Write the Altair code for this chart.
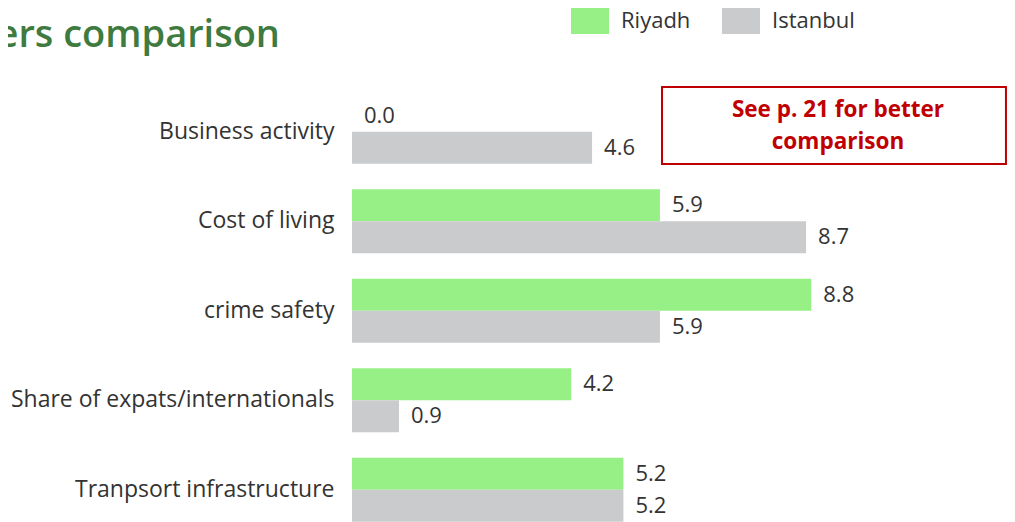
import altair as alt
import pandas as pd

categories = ["Business activity", "Cost of living", "crime safety",
              "Share of expats/internationals", "Tranpsort infrastructure"]
series = ["Riyadh", "Istanbul"]
riyadh = [0.0, 5.9, 8.8, 4.2, 5.2]
istanbul = [4.6, 8.7, 5.9, 0.9, 5.2]
colors = ["#96F085", "#CACBCD"]

title_text = "ers comparison"
note_lines = ["See p. 21 for better", "comparison"]
note_x = [5.94, 12.53]

rows = []
for c, r, i in zip(categories, riyadh, istanbul):
    rows.append({"cat": c, "series": "Riyadh", "value": r})
    rows.append({"cat": c, "series": "Istanbul", "value": i})
df = pd.DataFrame(rows)
df["label"] = df["value"].map(lambda v: f"{v:.1f}")

FONT = "Open Sans"
xscale = alt.Scale(domain=[0, 12.55], nice=False, zero=True)
yscale = alt.Scale(domain=categories, paddingInner=0.285, paddingOuter=0.1425)
yoff = alt.YOffset("series:N", sort=series, scale=alt.Scale(domain=series, paddingInner=0, paddingOuter=0))

base = alt.Chart(df).encode(
    y=alt.Y("cat:N", sort=categories, scale=yscale,
            axis=alt.Axis(title=None, ticks=False, domain=False, labelFontSize=23,
                          labelFont=FONT, labelColor="#333333", labelPadding=18,
                          labelLimit=400)),
    yOffset=yoff,
)

bars = base.mark_bar().encode(
    x=alt.X("value:Q", scale=xscale, axis=None),
    color=alt.Color("series:N", sort=series,
                    scale=alt.Scale(domain=series, range=colors),
                    legend=alt.Legend(title=None, orient="none", legendX=219, legendY=-85,
                                      direction="horizontal",
                                      symbolType="M-1,-0.684h2v1.368h-2z",
                                      symbolSize=1444, symbolStrokeWidth=0,
                                      symbolOpacity=1,
                                      labelFontSize=22, labelFont=FONT,
                                      labelColor="#333333", labelOffset=12,
                                      columnPadding=31)),
)

texts = base.mark_text(align="left", baseline="middle", dx=12, fontSize=22,
                       font=FONT, color="#333333").encode(
    x=alt.X("value:Q", scale=xscale),
    text="label:N",
)

title = alt.Chart(pd.DataFrame({"t": [title_text]})).mark_text(
    align="right", baseline="alphabetic", fontSize=38, fontWeight=600,
    font="Open Sans", color="#3F7A3F").encode(
    x=alt.value(-72), y=alt.value(-40), text="t:N")

box = alt.Chart(pd.DataFrame({"x0": [note_x[0]], "x1": [note_x[1]]})).mark_rect(
    fill="white", stroke="#C00000", strokeWidth=2).encode(
    x=alt.X("x0:Q", scale=xscale), x2="x1:Q",
    y=alt.value(0), y2=alt.value(77))

note = alt.Chart(pd.DataFrame({"t": [note_lines]})).mark_text(
    align="center", baseline="middle", fontSize=22.5, fontWeight="bold",
    font=FONT, color="#C00000", lineHeight=32).encode(
    x=alt.value(486), y=alt.value(23), text="t")

chart = alt.layer(bars, texts, box, note, title).properties(
    width=655, height=447.5,
    autosize=alt.AutoSizeParams(type="none"),
    padding={"left": 344, "top": 79, "right": 0, "bottom": 0},
).configure_view(stroke=None)

chart.save("out.html", embed_options={"renderer": "svg", "actions": False})
